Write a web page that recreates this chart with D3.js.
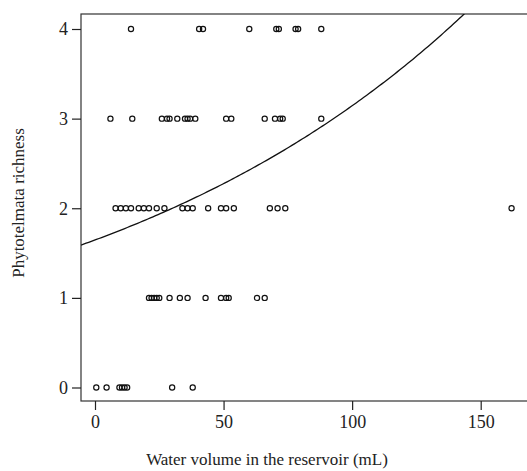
<!DOCTYPE html>
<html>
<head>
<meta charset="utf-8">
<script src="https://cdn.jsdelivr.net/npm/d3@7"></script>
<style>
  body { margin: 0; background: #fff; }
  svg { display: block; font-family: "Liberation Serif", "DejaVu Serif", serif; }
</style>
</head>
<body>
<svg id="chart" width="527" height="471"></svg>
<script>
"use strict"

// water volume (mL) for each richness level
let rich0 = [0.5, 4.5, 9.5, 10.5, 11.5, 12.5, 30, 38]
let rich1 = [21, 22, 23, 24, 25, 29, 33, 36, 43, 49, 51, 52, 63, 66]
let rich2 = [8, 10, 12, 14, 17, 19, 21, 24, 27, 34, 36, 38, 44, 49, 51, 54, 68, 71, 74, 162]
let rich3 = [6, 14.5, 26, 28, 29, 32, 35, 36, 37, 39, 51, 53, 66, 70, 72, 73, 88]
let rich4 = [14, 40.5, 42, 60, 70.5, 71.5, 78, 79, 88]

let xTicks = [0, 50, 100, 150]
let yTicks = [0, 1, 2, 3, 4]

// fitted poisson curve: richness = exp(b0 + b1 * volume)
let b0 = Math.log(1.646)
let b1 = 0.00647

let points = []
;[rich0, rich1, rich2, rich3, rich4].forEach(function(arr, r) {
    arr.forEach(function(v) { points.push({ x: v, y: r }) })
})

let svg = d3.select("#chart")
let plotLeft = 81, plotRight = 540, plotTop = 14, plotBottom = 401
let serif = "'Liberation Serif', 'DejaVu Serif', serif"

let xscale = d3.scaleLinear().domain([0, 150]).range([95, 480.7])
let yscale = d3.scaleLinear().domain([0, 4]).range([387.5, 29])

// frame
svg.append("rect")
    .attr("x", plotLeft).attr("y", plotTop)
    .attr("width", plotRight - plotLeft).attr("height", plotBottom - plotTop)
    .attr("fill", "none").attr("stroke", "#333").attr("stroke-width", 1.2)

// curve, clipped to the frame
svg.append("clipPath").attr("id", "clip")
    .append("rect").attr("x", plotLeft).attr("y", plotTop)
    .attr("width", plotRight - plotLeft).attr("height", plotBottom - plotTop)

let xs = d3.range(xscale.invert(plotLeft), xscale.invert(527) + 1, 1)
let line = d3.line()
    .x(function(d) { return xscale(d) })
    .y(function(d) { return yscale(Math.exp(b0 + b1 * d)) })

svg.append("path")
    .datum(xs)
    .attr("d", line)
    .attr("clip-path", "url(#clip)")
    .attr("fill", "none")
    .attr("stroke", "#111")
    .attr("stroke-width", 1.3)

// points
svg.append("g").selectAll("circle")
    .data(points)
    .enter().append("circle")
    .attr("cx", function(d) { return xscale(d.x) })
    .attr("cy", function(d) { return yscale(d.y) })
    .attr("r", 2.6)
    .attr("fill", "none")
    .attr("stroke", "#111")
    .attr("stroke-width", 1.2)

// x axis
let xAxis = d3.axisBottom(xscale).tickValues(xTicks).tickFormat(d3.format("d"))
    .tickSize(9).tickPadding(5)
let gx = svg.append("g").attr("transform", "translate(0," + plotBottom + ")").call(xAxis)
    .attr("font-family", serif).attr("font-size", 18)
gx.select(".domain").remove()
gx.selectAll("line").attr("stroke", "#222").attr("stroke-width", 1.2)
gx.selectAll("text").attr("fill", "#222")

// y axis
let yAxis = d3.axisLeft(yscale).tickValues(yTicks).tickFormat(d3.format("d"))
    .tickSize(9).tickPadding(4)
let gy = svg.append("g").attr("transform", "translate(" + plotLeft + ",0)").call(yAxis)
    .attr("font-family", serif).attr("font-size", 18)
gy.select(".domain").remove()
gy.selectAll("line").attr("stroke", "#222").attr("stroke-width", 1.2)
gy.selectAll("text").attr("fill", "#222")

// axis titles
svg.append("text")
    .attr("x", 267).attr("y", 465)
    .attr("text-anchor", "middle")
    .attr("font-size", 17).attr("fill", "#222")
    .text("Water volume in the reservoir (mL)")

svg.append("text")
    .attr("transform", "translate(24,203) rotate(-90)")
    .attr("text-anchor", "middle")
    .attr("font-size", 17).attr("fill", "#222")
    .text("Phytotelmata richness")
</script>
</body>
</html>
